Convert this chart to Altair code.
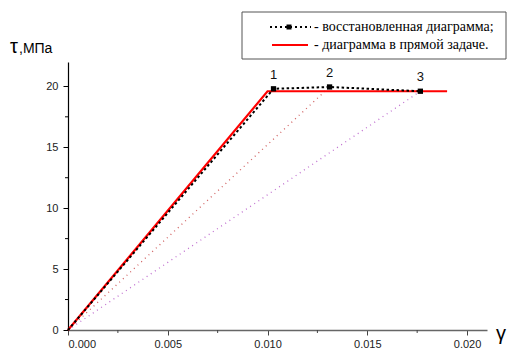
import altair as alt
import pandas as pd

# data
gamma_red = [0.0, 0.0100, 0.0190]
tau_red = [0.0, 19.6, 19.6]

gamma_rest = [0.0, 0.0103, 0.01311, 0.01766]
tau_rest = [0.0, 19.8, 19.95, 19.6]
point_labels = ["", "1", "2", "3"]

# secant (dotted) lines from origin to points 2 and 3
sec2_gamma = [0.0, 0.01311]
sec2_tau = [0.0, 19.95]
sec3_gamma = [0.0, 0.01766]
sec3_tau = [0.0, 19.6]

x_ticks = [0.0, 0.005, 0.010, 0.015, 0.020]
x_minor = [0.0025, 0.0075, 0.0125, 0.0175]
y_ticks = [0, 5, 10, 15, 20]
y_minor = [2.5, 7.5, 12.5, 17.5]

W, H = 419, 268
FONT = "Liberation Sans"
SERIF = "Liberation Serif"

xs = alt.Scale(domain=[0, 0.021], nice=False, zero=False)
ys = alt.Scale(domain=[0, 22], nice=False, zero=False)

red_df = pd.DataFrame({"g": gamma_red, "t": tau_red})
rest_df = pd.DataFrame({"g": gamma_rest, "t": tau_rest, "lab": point_labels})
pts_df = rest_df.iloc[1:]
s2_df = pd.DataFrame({"g": sec2_gamma, "t": sec2_tau})
s3_df = pd.DataFrame({"g": sec3_gamma, "t": sec3_tau})

x_axis = alt.Axis(
    values=x_ticks, format=".3f", title=None, grid=False,
    domainColor="#666666", tickColor="#444444", tickSize=5, labelPadding=3,
    labelFont=FONT, labelFontSize=11, labelColor="#222222", domainWidth=1.5)
y_axis = alt.Axis(
    values=y_ticks, title=None, grid=False,
    domainColor="#000000", tickColor="#000000", tickSize=5, labelPadding=5,
    labelFont=FONT, labelFontSize=11, labelColor="#222222", domainWidth=1.2)

X = alt.X("g:Q", scale=xs, axis=x_axis)
Y = alt.Y("t:Q", scale=ys, axis=y_axis)

sec2 = alt.Chart(s2_df).mark_line(color="#d06060", strokeDash=[1, 4], strokeWidth=1.3).encode(x=X, y=Y)
sec3 = alt.Chart(s3_df).mark_line(color="#c070d0", strokeDash=[1, 4], strokeWidth=1.3).encode(x=X, y=Y)

red = alt.Chart(red_df).mark_line(color="#ff0000", strokeWidth=2.2).encode(x=X, y=Y)
rest = alt.Chart(rest_df).mark_line(color="#000000", strokeDash=[2.5, 2.5], strokeWidth=2).encode(x=X, y=Y)
pts = alt.Chart(pts_df).mark_square(color="#000000", size=28, opacity=1).encode(x=X, y=Y)
labs = alt.Chart(pts_df).mark_text(font=FONT, fontSize=13, dy=-14, color="#111111").encode(x=X, y=Y, text="lab:N")

# minor ticks
mx_df = pd.DataFrame({"g": x_minor})
my_df = pd.DataFrame({"t": y_minor})
mxt = alt.Chart(mx_df).mark_rule(color="#444444", strokeWidth=1).encode(
    x=X, y=alt.value(H), y2=alt.value(H + 3))
myt = alt.Chart(my_df).mark_rule(color="#000000", strokeWidth=1).encode(
    y=Y, x=alt.value(0), x2=alt.value(-3))

# axis titles
tau_t = alt.Chart(pd.DataFrame({"s": ["τ"]})).mark_text(
    font=FONT, fontSize=20, align="left", baseline="alphabetic", color="#000000").encode(
    text="s:N", x=alt.value(-58), y=alt.value(-9))
mpa_t = alt.Chart(pd.DataFrame({"s": [",МПа"]})).mark_text(
    font=FONT, fontSize=14, align="left", baseline="alphabetic", color="#000000").encode(
    text="s:N", x=alt.value(-49), y=alt.value(-9))
gam_t = alt.Chart(pd.DataFrame({"s": ["γ"]})).mark_text(
    font=FONT, fontSize=20, align="left", baseline="alphabetic", color="#000000").encode(
    text="s:N", x=alt.value(428), y=alt.value(278))

# legend box
box = alt.Chart(pd.DataFrame({"a": [0]})).mark_rect(
    fill="white", stroke="#555555", strokeWidth=1).encode(
    x=alt.value(174), x2=alt.value(438), y=alt.value(-50), y2=alt.value(-3))
leg1_line = alt.Chart(pd.DataFrame({"a": [0]})).mark_rule(
    color="#000000", strokeDash=[2, 3], strokeWidth=2).encode(
    x=alt.value(202), x2=alt.value(243), y=alt.value(-35))
leg1_sq = alt.Chart(pd.DataFrame({"a": [0]})).mark_square(
    color="#000000", size=25, opacity=1).encode(x=alt.value(221), y=alt.value(-35))
leg2_line = alt.Chart(pd.DataFrame({"a": [0]})).mark_rule(
    color="#ff0000", strokeWidth=2).encode(
    x=alt.value(204), x2=alt.value(240), y=alt.value(-17))
leg1_t = alt.Chart(pd.DataFrame({"s": ["- восстановленная диаграмма;"]})).mark_text(
    font=SERIF, fontSize=14, align="left", baseline="middle", color="#000000").encode(
    text="s:N", x=alt.value(246), y=alt.value(-35))
leg2_t = alt.Chart(pd.DataFrame({"s": ["- диаграмма в прямой задаче."]})).mark_text(
    font=SERIF, fontSize=14, align="left", baseline="middle", color="#000000").encode(
    text="s:N", x=alt.value(246), y=alt.value(-17))

chart = alt.layer(
    sec2, sec3, red, rest, pts, labs, mxt, myt,
    tau_t, mpa_t, gam_t, box, leg1_line, leg1_sq, leg2_line, leg1_t, leg2_t
).properties(
    width=W, height=H,
    autosize=alt.AutoSizeParams(type="none"),
    padding={"left": 68, "top": 62, "right": 20, "bottom": 22},
    background="white",
).configure_view(stroke=None)

chart.save("out.html", embed_options={"renderer": "svg", "actions": False})
